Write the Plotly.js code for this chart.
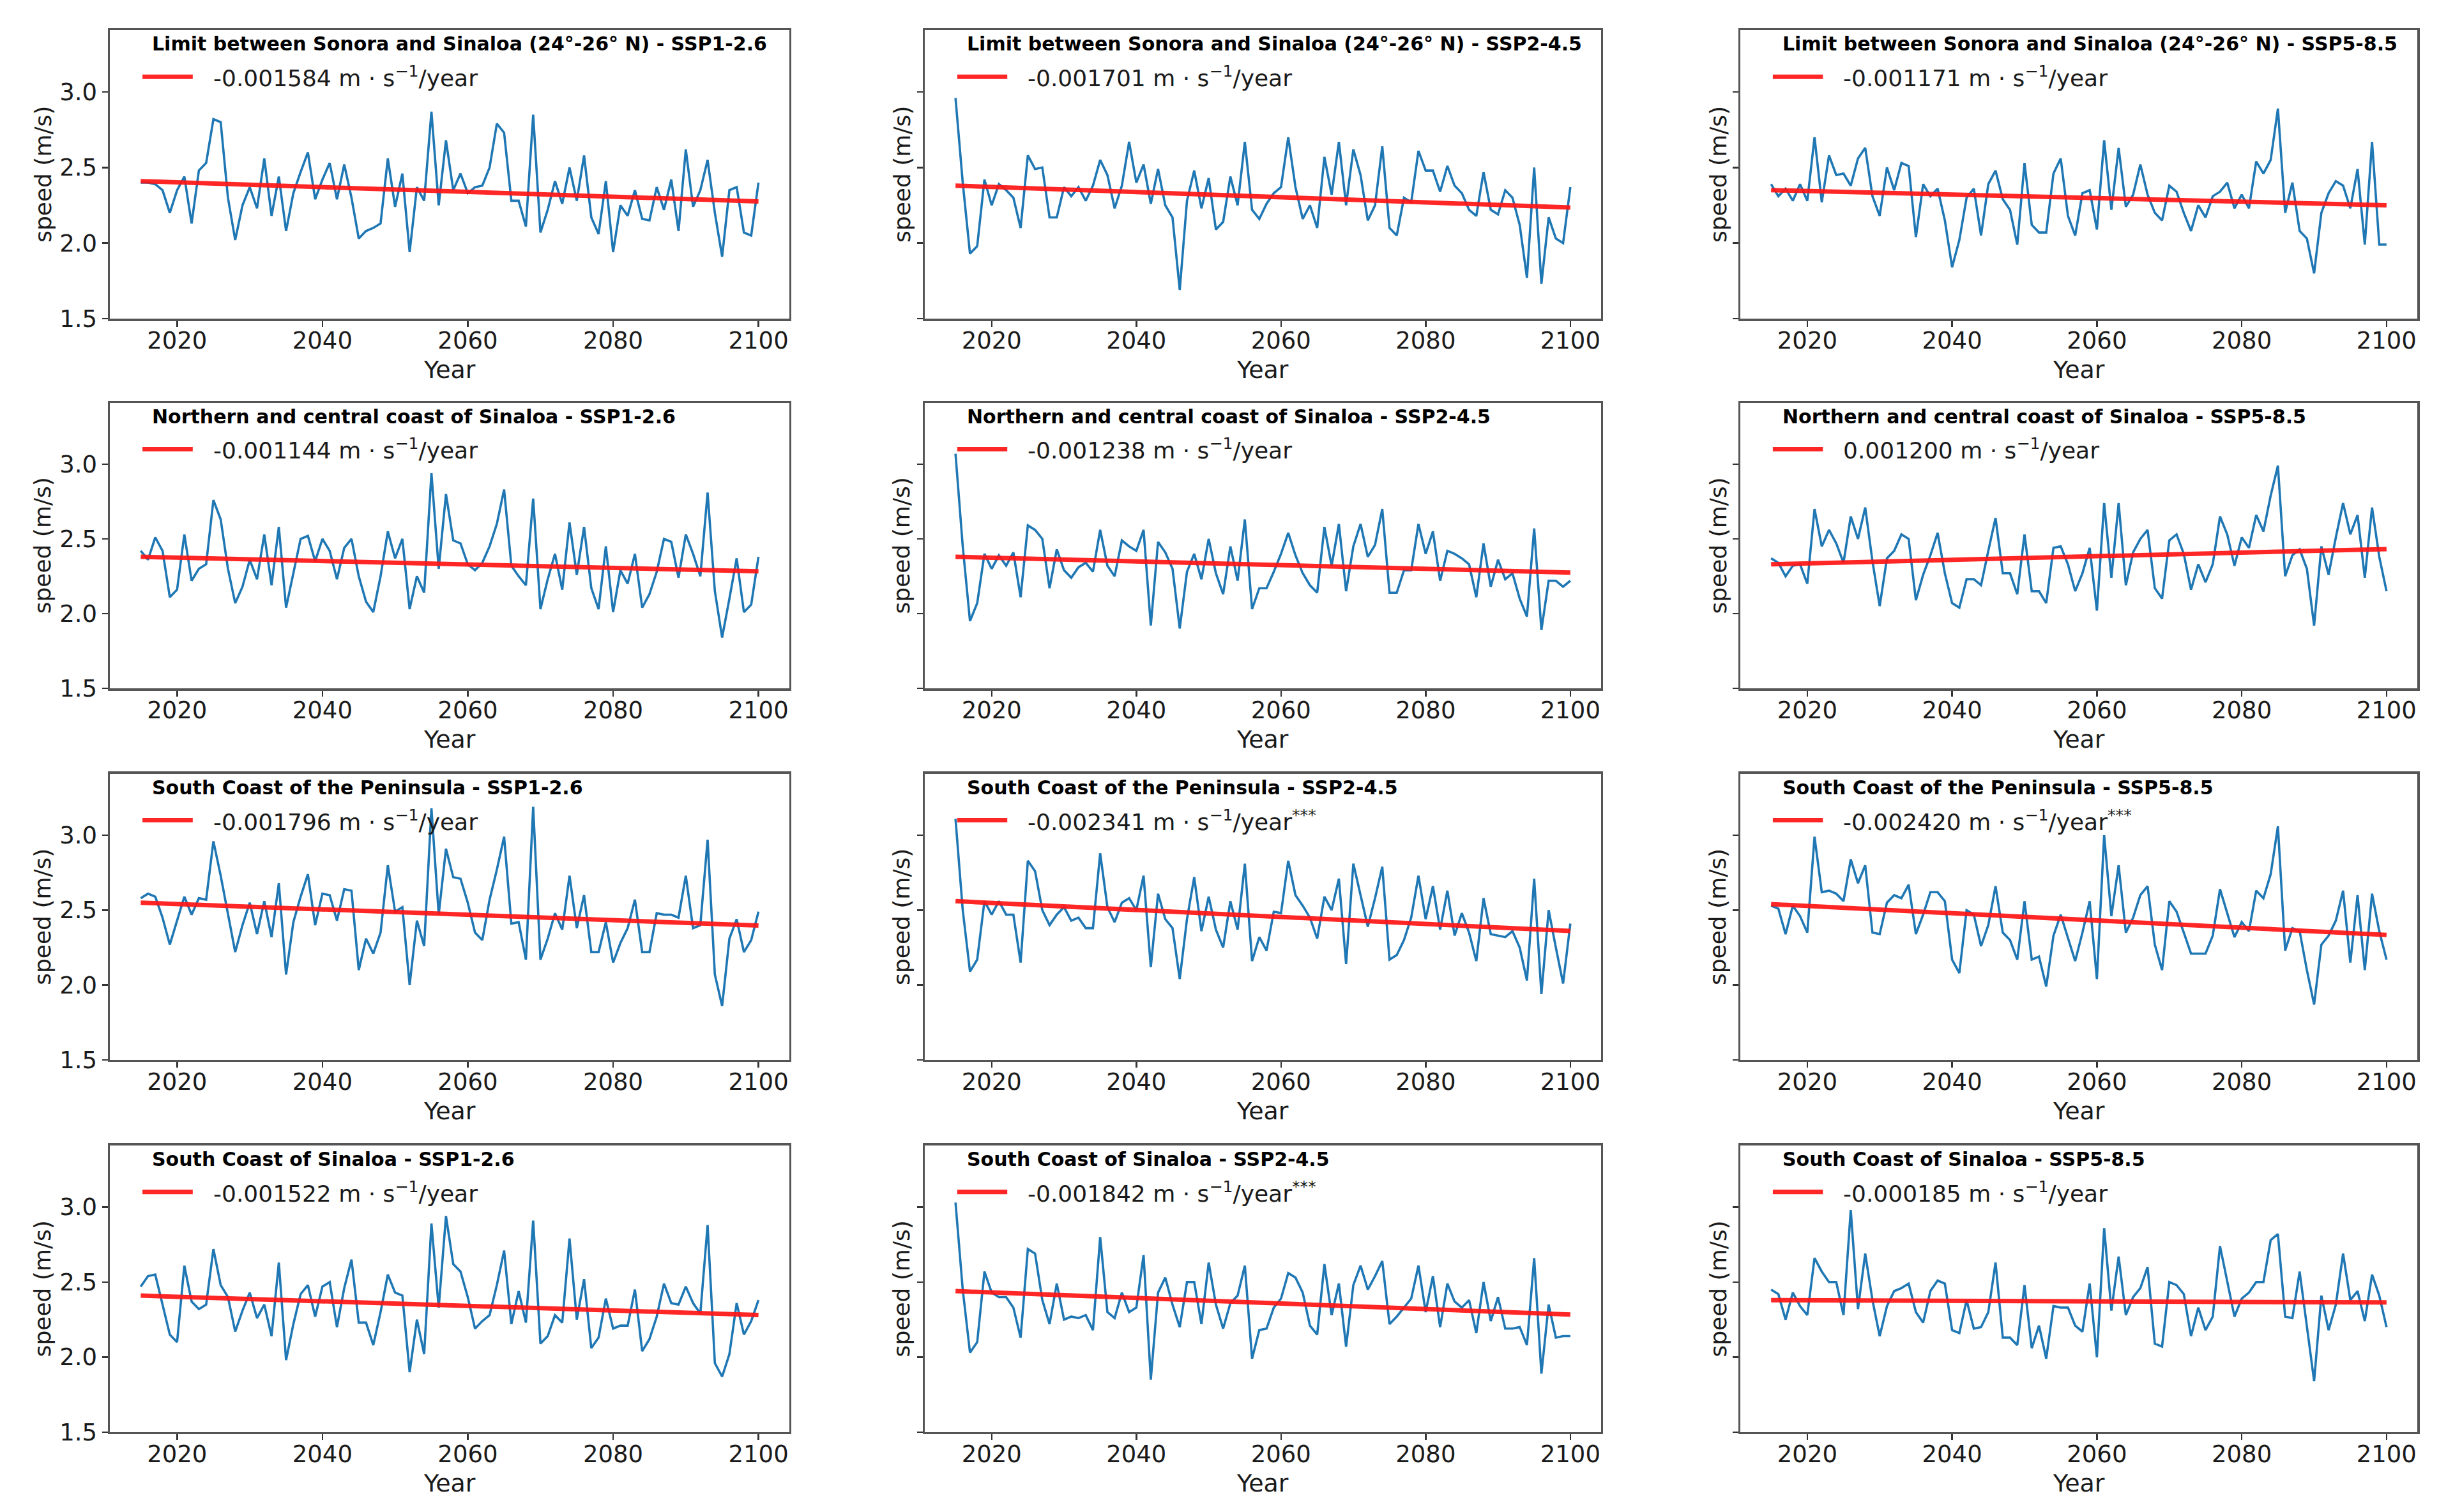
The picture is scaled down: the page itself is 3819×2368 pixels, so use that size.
<!DOCTYPE html>
<html><head><meta charset="utf-8">
<script src="https://cdn.plot.ly/plotly-3.0.1.min.js"></script>
<style>html,body{margin:0;padding:0;background:#fff}#chart{width:3819px;height:2368px}</style>
</head><body><div id="chart"></div>
<script>
// ---- data ----
const firstYear = 2015, lastYear = 2100;
const regions = ["Limit between Sonora and Sinaloa (24°-26° N)", "Northern and central coast of Sinaloa", "South Coast of the Peninsula", "South Coast of Sinaloa"];
const scenarios = ["SSP1-2.6", "SSP2-4.5", "SSP5-8.5"];
const xTicks = [2020, 2040, 2060, 2080, 2100];
const yTicks = [1.5, 2.0, 2.5, 3.0];
const yTickLabels = ["1.5", "2.0", "2.5", "3.0"];

const sonora126 = [2.40,2.40,2.39,2.35,2.20,2.35,2.44,2.13,2.48,2.53, 2.82,2.80,2.30,2.02,2.25,2.37,2.23,2.56,2.18,2.44, 2.08,2.33,2.47,2.60,2.29,2.42,2.53,2.29,2.52,2.30, 2.03,2.08,2.10,2.13,2.56,2.24,2.46,1.94,2.37,2.28, 2.87,2.25,2.68,2.35,2.46,2.33,2.37,2.38,2.50,2.79, 2.73,2.28,2.28,2.11,2.85,2.07,2.22,2.41,2.26,2.50, 2.28,2.58,2.17,2.06,2.41,1.94,2.25,2.18,2.35,2.16, 2.15,2.37,2.22,2.42,2.08,2.62,2.24,2.35,2.55,2.20, 1.91,2.35,2.37,2.07,2.05,2.40];
const sonora245 = [2.96,2.40,1.93,1.98,2.42,2.25,2.39,2.35,2.30,2.10, 2.58,2.49,2.50,2.17,2.17,2.37,2.31,2.37,2.28,2.38, 2.55,2.45,2.23,2.38,2.67,2.40,2.52,2.26,2.49,2.25, 2.17,1.69,2.28,2.48,2.23,2.43,2.09,2.14,2.44,2.25, 2.67,2.22,2.16,2.26,2.33,2.37,2.70,2.37,2.16,2.25, 2.10,2.57,2.32,2.67,2.25,2.62,2.45,2.15,2.25,2.64, 2.10,2.05,2.30,2.27,2.61,2.48,2.48,2.34,2.51,2.38, 2.33,2.22,2.18,2.47,2.22,2.19,2.35,2.30,2.12,1.77, 2.50,1.73,2.17,2.03,2.00,2.37];
const sonora585 = [2.39,2.31,2.36,2.28,2.39,2.28,2.70,2.27,2.58,2.45, 2.46,2.38,2.56,2.63,2.31,2.18,2.50,2.35,2.53,2.51, 2.04,2.39,2.31,2.36,2.15,1.84,2.02,2.30,2.36,2.05, 2.39,2.48,2.29,2.22,1.99,2.53,2.12,2.07,2.07,2.46, 2.56,2.18,2.05,2.33,2.35,2.09,2.68,2.22,2.63,2.24, 2.32,2.52,2.32,2.20,2.15,2.38,2.34,2.20,2.08,2.25, 2.17,2.31,2.34,2.40,2.23,2.32,2.23,2.54,2.46,2.55, 2.89,2.20,2.40,2.08,2.03,1.80,2.20,2.33,2.41,2.38, 2.23,2.49,1.99,2.67,1.99,1.99];
const north126 = [2.42,2.36,2.51,2.42,2.11,2.16,2.53,2.22,2.30,2.33, 2.76,2.63,2.30,2.07,2.18,2.36,2.23,2.53,2.19,2.58, 2.04,2.27,2.50,2.52,2.35,2.50,2.42,2.23,2.44,2.50, 2.25,2.08,2.01,2.25,2.55,2.37,2.50,2.03,2.25,2.14, 2.94,2.30,2.80,2.49,2.47,2.33,2.29,2.34,2.45,2.60, 2.83,2.32,2.25,2.19,2.77,2.03,2.23,2.40,2.16,2.61, 2.26,2.58,2.17,2.03,2.45,2.01,2.29,2.20,2.40,2.04, 2.13,2.28,2.50,2.48,2.24,2.53,2.40,2.25,2.81,2.15, 1.84,2.10,2.37,2.01,2.06,2.38];
const north245 = [3.07,2.45,1.95,2.07,2.40,2.30,2.39,2.32,2.41,2.11, 2.59,2.56,2.50,2.17,2.43,2.29,2.24,2.31,2.34,2.28, 2.56,2.32,2.25,2.49,2.45,2.42,2.56,1.92,2.48,2.41, 2.30,1.90,2.28,2.40,2.23,2.50,2.27,2.13,2.45,2.22, 2.63,2.03,2.17,2.17,2.28,2.40,2.54,2.39,2.27,2.19, 2.14,2.58,2.32,2.60,2.15,2.45,2.60,2.38,2.46,2.70, 2.14,2.14,2.29,2.29,2.60,2.40,2.55,2.22,2.42,2.40, 2.37,2.33,2.11,2.47,2.18,2.36,2.23,2.27,2.10,1.98, 2.57,1.89,2.22,2.22,2.18,2.22];
const north585 = [2.37,2.34,2.25,2.32,2.33,2.20,2.70,2.45,2.56,2.47, 2.34,2.65,2.50,2.71,2.35,2.05,2.37,2.42,2.53,2.50, 2.09,2.26,2.39,2.54,2.27,2.07,2.04,2.23,2.23,2.19, 2.42,2.64,2.27,2.27,2.13,2.53,2.15,2.15,2.07,2.44, 2.45,2.33,2.15,2.27,2.44,2.02,2.74,2.24,2.74,2.19, 2.41,2.50,2.56,2.17,2.10,2.49,2.53,2.40,2.16,2.33, 2.21,2.33,2.65,2.53,2.32,2.51,2.44,2.66,2.55,2.79, 2.99,2.25,2.39,2.43,2.30,1.92,2.45,2.26,2.51,2.74, 2.53,2.66,2.24,2.71,2.38,2.15];
const pen126 = [2.58,2.61,2.59,2.45,2.27,2.43,2.59,2.47,2.58,2.57, 2.96,2.73,2.47,2.22,2.40,2.55,2.34,2.56,2.32,2.68, 2.07,2.42,2.59,2.74,2.40,2.61,2.60,2.43,2.64,2.63, 2.10,2.31,2.21,2.35,2.80,2.49,2.52,2.00,2.43,2.26, 3.18,2.47,2.91,2.72,2.71,2.55,2.35,2.30,2.57,2.77, 2.99,2.41,2.42,2.17,3.19,2.17,2.31,2.48,2.37,2.73, 2.38,2.60,2.22,2.22,2.42,2.15,2.28,2.38,2.57,2.22, 2.22,2.48,2.47,2.47,2.45,2.73,2.38,2.40,2.97,2.07, 1.86,2.31,2.44,2.22,2.30,2.49];
const pen245 = [3.11,2.50,2.09,2.17,2.56,2.47,2.56,2.47,2.47,2.15, 2.83,2.76,2.50,2.40,2.47,2.52,2.43,2.45,2.38,2.38, 2.88,2.52,2.42,2.55,2.58,2.50,2.73,2.12,2.61,2.44, 2.38,2.04,2.44,2.72,2.36,2.59,2.37,2.25,2.56,2.37, 2.81,2.16,2.32,2.23,2.49,2.48,2.83,2.60,2.53,2.45, 2.31,2.59,2.50,2.71,2.14,2.81,2.60,2.39,2.58,2.79, 2.17,2.20,2.30,2.45,2.73,2.44,2.66,2.37,2.63,2.33, 2.48,2.35,2.16,2.58,2.34,2.33,2.32,2.36,2.25,2.03, 2.71,1.94,2.50,2.25,2.01,2.41];
const pen585 = [2.53,2.51,2.34,2.53,2.46,2.35,2.99,2.62,2.63,2.61, 2.56,2.84,2.68,2.80,2.35,2.34,2.55,2.60,2.58,2.67, 2.34,2.47,2.62,2.62,2.56,2.17,2.08,2.50,2.47,2.26, 2.40,2.66,2.35,2.30,2.17,2.56,2.17,2.19,1.99,2.33, 2.47,2.32,2.16,2.35,2.56,2.04,3.00,2.46,2.80,2.35, 2.45,2.60,2.66,2.27,2.10,2.56,2.49,2.35,2.21,2.21, 2.21,2.33,2.64,2.48,2.32,2.42,2.36,2.63,2.58,2.74, 3.06,2.23,2.38,2.36,2.10,1.87,2.27,2.33,2.43,2.63, 2.15,2.60,2.10,2.61,2.36,2.17];
const sin126 = [2.47,2.54,2.55,2.35,2.15,2.10,2.61,2.37,2.32,2.35, 2.72,2.48,2.40,2.17,2.31,2.43,2.26,2.35,2.14,2.63, 1.98,2.22,2.42,2.48,2.27,2.47,2.50,2.20,2.46,2.65, 2.23,2.23,2.08,2.30,2.55,2.43,2.41,1.90,2.25,2.02, 2.89,2.33,2.94,2.62,2.57,2.40,2.19,2.24,2.28,2.48, 2.71,2.22,2.44,2.23,2.91,2.09,2.14,2.28,2.23,2.79, 2.25,2.52,2.06,2.13,2.39,2.19,2.21,2.21,2.45,2.04, 2.12,2.27,2.49,2.36,2.35,2.47,2.36,2.29,2.88,1.96, 1.87,2.02,2.36,2.15,2.24,2.38];
const sin245 = [3.03,2.45,2.03,2.10,2.57,2.43,2.40,2.40,2.33,2.13, 2.72,2.69,2.38,2.22,2.49,2.25,2.27,2.26,2.28,2.18, 2.80,2.30,2.26,2.43,2.30,2.33,2.68,1.85,2.43,2.53, 2.35,2.20,2.50,2.50,2.22,2.63,2.35,2.19,2.36,2.41, 2.61,1.99,2.18,2.19,2.33,2.39,2.56,2.53,2.43,2.21, 2.15,2.62,2.28,2.49,2.07,2.48,2.61,2.45,2.54,2.64, 2.22,2.27,2.33,2.39,2.61,2.30,2.54,2.20,2.49,2.37, 2.33,2.38,2.16,2.50,2.24,2.40,2.19,2.19,2.20,2.08, 2.66,1.89,2.35,2.13,2.14,2.14];
const sin585 = [2.45,2.42,2.25,2.43,2.34,2.28,2.66,2.57,2.50,2.50, 2.28,2.98,2.32,2.69,2.38,2.14,2.34,2.44,2.46,2.49, 2.30,2.23,2.44,2.51,2.49,2.18,2.16,2.38,2.19,2.20, 2.30,2.63,2.13,2.13,2.08,2.48,2.06,2.21,1.99,2.34, 2.33,2.33,2.21,2.17,2.49,2.00,2.86,2.31,2.67,2.28, 2.40,2.46,2.60,2.09,2.07,2.50,2.48,2.42,2.14,2.33, 2.18,2.27,2.74,2.50,2.27,2.39,2.43,2.50,2.50,2.78, 2.82,2.27,2.26,2.57,2.20,1.84,2.41,2.18,2.35,2.69, 2.38,2.44,2.24,2.55,2.41,2.20];

const series = [sonora126, sonora245, sonora585, north126, north245, north585, pen126, pen245, pen585, sin126, sin245, sin585];
const trendStart = [2.41, 2.38, 2.35, 2.38, 2.38, 2.33, 2.55, 2.56, 2.54, 2.41, 2.44, 2.38];
const trendSlope = [-0.001584, -0.001701, -0.001171, -0.001144, -0.001238, 0.001200, -0.001796, -0.002341, -0.002420, -0.001522, -0.001842, -0.000185];
const slopeLabels = ["-0.001584", "-0.001701", "-0.001171", "-0.001144", "-0.001238", "0.001200", "-0.001796", "-0.002341", "-0.002420", "-0.001522", "-0.001842", "-0.000185"];
const significant = [false, false, false, false, false, false, false, true, true, false, true, false];

// ---- layout geometry ----
const colDom = [[0.04504, 0.32364], [0.37916, 0.65645], [0.71354, 0.99110]];
const rowDom = [[0.78927, 0.98015], [0.54476, 0.73353], [0.29899, 0.48818], [0.05279, 0.24240]];
const yTitleX = [0.0175, 0.3697, 0.7044];
const FONT = "DejaVu Sans, Liberation Sans, sans-serif";
const BLUE = "#1f77b4", RED = "rgba(255,20,20,0.92)";

const years = [];
for (let y = firstYear; y <= lastYear; y++) years.push(y);

const traces = [], shapes = [], annotations = [];
const layout = {
  width: 3819, height: 2368,
  paper_bgcolor: "#ffffff", plot_bgcolor: "#ffffff",
  margin: {l: 0, r: 0, t: 0, b: 0},
  showlegend: false,
  font: {family: FONT, color: "#1a1a1a"}
};

series.forEach((vals, k) => {
  const r = Math.floor(k / 3), c = k % 3, n = k + 1;
  const xa = "x" + (n > 1 ? n : ""), ya = "y" + (n > 1 ? n : "");
  const xk = "xaxis" + (n > 1 ? n : ""), yk = "yaxis" + (n > 1 ? n : "");
  traces.push({x: years, y: vals, xaxis: xa, yaxis: ya, type: "scatter", mode: "lines",
    line: {color: BLUE, width: 3.6}, hoverinfo: "skip"});
  const tx = [firstYear, lastYear];
  const ty = tx.map(t => trendStart[k] + trendSlope[k] * (t - firstYear));
  traces.push({x: tx, y: ty, xaxis: xa, yaxis: ya, type: "scatter", mode: "lines",
    line: {color: RED, width: 7}, hoverinfo: "skip"});

  layout[xk] = {domain: colDom[c], anchor: ya, range: [2010.75, 2104.25],
    tickmode: "array", tickvals: xTicks, ticktext: xTicks.map(String),
    ticks: "outside", ticklen: 9, tickwidth: 2.5, tickcolor: "#333",
    ticklabelstandoff: -10,
    showline: true, mirror: true, linecolor: "#555", linewidth: 3.5,
    showgrid: false, zeroline: false,
    tickfont: {family: FONT, size: 37, color: "#1a1a1a"}};
  const yax = {domain: rowDom[r], anchor: xa, range: [1.5, 3.41],
    tickmode: "array", tickvals: yTicks,
    ticks: "outside", ticklen: 9, tickwidth: 2.5, tickcolor: "#333",
    showline: true, mirror: true, linecolor: "#555", linewidth: 3.5,
    showgrid: false, zeroline: false,
    tickfont: {family: FONT, size: 37, color: "#1a1a1a"}};
  if (c === 0) { yax.ticktext = yTickLabels; yax.showticklabels = true; }
  else { yax.ticktext = yTicks.map(() => ""); yax.showticklabels = true; }
  layout[yk] = yax;

  // legend-like title and entry
  annotations.push({xref: xa + " domain", yref: ya + " domain", x: 0.060, y: 0.952,
    xanchor: "left", yanchor: "middle", showarrow: false,
    text: "<b>" + regions[r] + " - " + scenarios[c] + "</b>",
    font: {family: FONT, size: 30, color: "#000"}});
  shapes.push({type: "line", xref: xa + " domain", yref: ya + " domain",
    x0: 0.048, x1: 0.122, y0: 0.838, y1: 0.838, line: {color: RED, width: 7}});
  annotations.push({xref: xa + " domain", yref: ya + " domain", x: 0.150, y: 0.838,
    xanchor: "left", yanchor: "middle", showarrow: false,
    text: slopeLabels[k] + " m · s<sup>−1</sup>/year" + (significant[k] ? "<sup>***</sup>" : ""),
    font: {family: FONT, size: 36, color: "#1a1a1a"}});
  // axis titles
  annotations.push({xref: xa + " domain", yref: ya + " domain", x: 0.5, y: -0.178,
    xanchor: "center", yanchor: "middle", showarrow: false, text: "Year",
    font: {family: FONT, size: 38, color: "#1a1a1a"}});
  annotations.push({xref: "paper", yref: ya + " domain", x: yTitleX[c], y: 0.5,
    xanchor: "center", yanchor: "middle", showarrow: false, textangle: -90,
    text: "speed (m/s)", font: {family: FONT, size: 36, color: "#1a1a1a"}});
});

layout.shapes = shapes;
layout.annotations = annotations;
Plotly.newPlot("chart", traces, layout, {staticPlot: true, displayModeBar: false});
</script>
</body></html>
